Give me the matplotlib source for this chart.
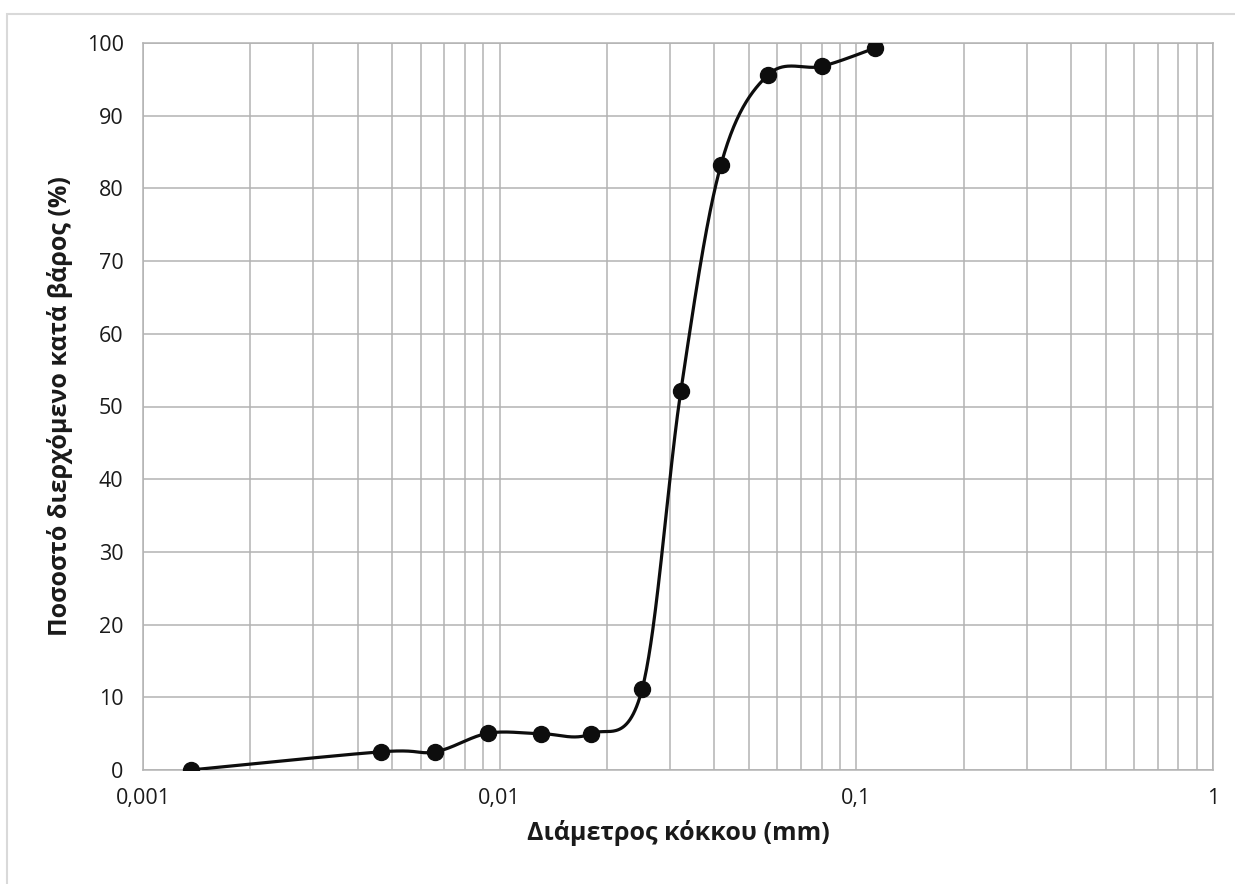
import matplotlib
matplotlib.use("Agg")
import matplotlib.pyplot as plt
import numpy as np
from matplotlib.patches import Rectangle

plt.rcParams['font.family'] = ['Open Sans', 'DejaVu Sans']

# grain size distribution (hydrometer + sieve)
diameter_mm = [0.00136, 0.00464, 0.00659, 0.00927, 0.01306, 0.01804,
               0.02508, 0.0322, 0.0417, 0.0565, 0.0802, 0.1127]
passing_pct = [0.0, 2.5, 2.5, 5.05, 5.0, 5.0,
               11.1, 52.1, 83.2, 95.6, 96.8, 99.3]

x_ticks = [0.001, 0.01, 0.1, 1]
x_tick_labels = ["0,001", "0,01", "0,1", "1"]
y_ticks = list(range(0, 101, 10))

W, H = 1235, 884
fig = plt.figure(figsize=(W / 100, H / 100), dpi=100)
ax = fig.add_axes([143 / W, 1 - 770 / H, 1070 / W, 727 / H])

# frame around the whole chart
fig.patches.append(Rectangle((7 / W, -0.05), 1.2, 1 - 13.5 / H + 0.05,
                             transform=fig.transFigure, fill=False,
                             edgecolor="#d9d9d9", linewidth=1.5, zorder=0))

ax.set_xscale("log")
ax.set_xlim(0.001, 1)
ax.set_ylim(0, 100)


def smooth_curve(xs, ys, n=60):
    # bezier smoothing in screen-like space (log x), control points at 1/6 of neighbour chord
    u = (np.log10(xs) + 3) / 3 * 1070
    v = np.asarray(ys) / 100 * 727
    P = np.column_stack([u, v])
    out = []
    for i in range(len(P) - 1):
        p0 = P[i - 1] if i > 0 else P[i]
        p3 = P[i + 2] if i + 2 < len(P) else P[i + 1]
        c1 = P[i] + (P[i + 1] - p0) / 6
        c2 = P[i + 1] - (p3 - P[i]) / 6
        t = np.linspace(0, 1, n)[:, None]
        seg = ((1 - t) ** 3 * P[i] + 3 * (1 - t) ** 2 * t * c1
               + 3 * (1 - t) * t ** 2 * c2 + t ** 3 * P[i + 1])
        out.append(seg if i == 0 else seg[1:])
    out = np.vstack(out)
    return 10 ** (out[:, 0] / 1070 * 3 - 3), out[:, 1] / 727 * 100


sx, sy = smooth_curve(diameter_mm, passing_pct)
ax.plot(sx, sy, color="#0d0d0d", linewidth=2.3, zorder=3, solid_capstyle="round")
ax.plot(diameter_mm, passing_pct, "o", color="#0d0d0d", markersize=11.5, zorder=4)

ax.set_xticks(x_ticks)
ax.set_xticklabels(x_tick_labels)
ax.set_yticks(y_ticks)
ax.grid(True, which="major", color="#b3b3b3", linewidth=1.1)
ax.grid(True, which="minor", axis="x", color="#b3b3b3", linewidth=1.1)
ax.tick_params(which="both", length=0)
ax.tick_params(axis="y", pad=14, labelsize=15.5, labelcolor="#1a1a1a")
ax.tick_params(axis="x", pad=13, labelsize=15.5, labelcolor="#1a1a1a")
ax.xaxis.set_minor_formatter(matplotlib.ticker.NullFormatter())
for s in ax.spines.values():
    s.set_color("#b3b3b3")
    s.set_linewidth(1.1)

ax.set_xlabel("Διάμετρος κόκκου (mm)", fontsize=18, fontweight="bold",
              color="#1a1a1a", labelpad=8)
ax.set_ylabel("Ποσοστό διερχόμενο κατά βάρος (%)", fontsize=18,
              fontweight="bold", color="#1a1a1a", labelpad=10)

fig.savefig("out.png", dpi=100)
